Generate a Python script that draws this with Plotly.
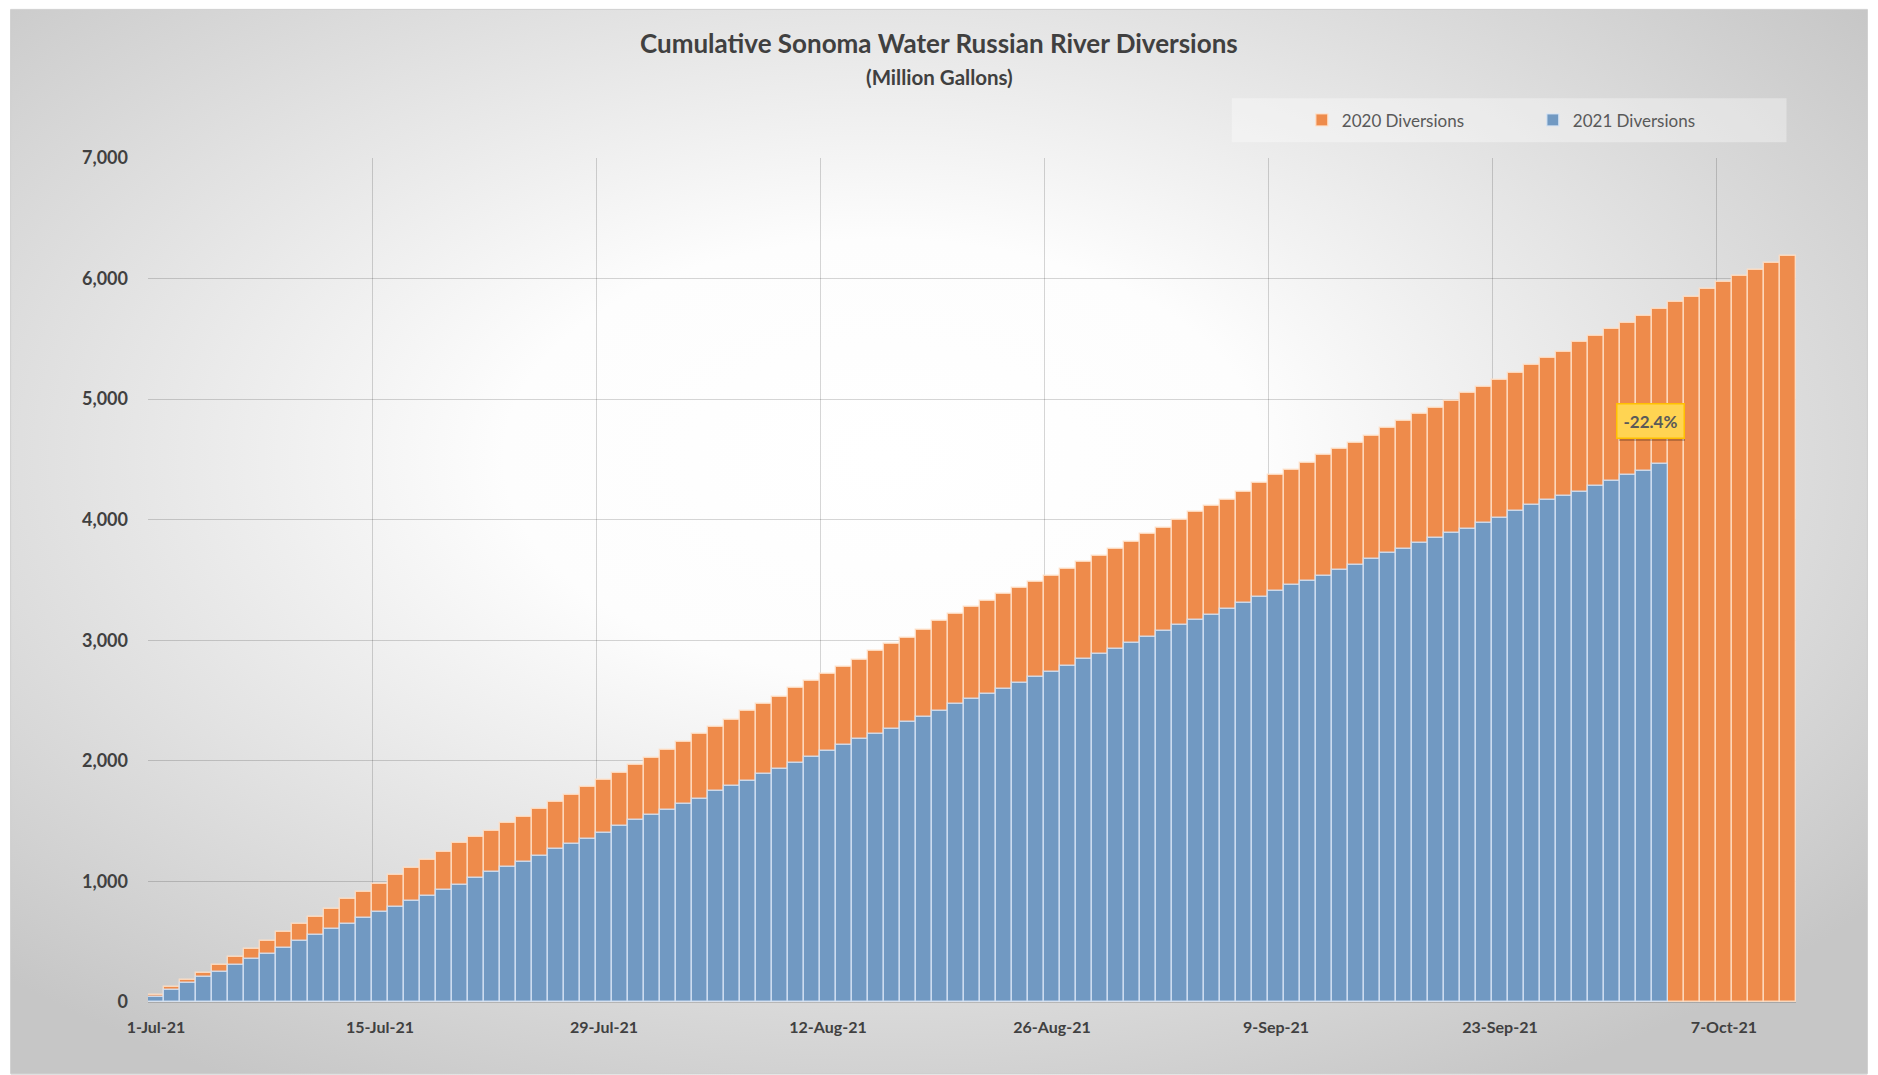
import base64
import pandas as pd
import plotly.graph_objects as go

# ---------------- data ----------------
dates = [d.strftime("%-d-%b-%y") for d in pd.date_range("2021-07-01", periods=103, freq="D")]

diversions_2020 = [
    60, 121, 182, 243, 309, 370, 439, 508, 577, 647,
    705, 774, 854, 912, 981, 1050, 1110, 1179, 1248, 1317,
    1370, 1419, 1483, 1533, 1602, 1662, 1715, 1781, 1842, 1902,
    1962, 2024, 2093, 2154, 2220, 2281, 2341, 2411, 2471, 2532,
    2601, 2662, 2720, 2781, 2840, 2913, 2969, 3018, 3082, 3157,
    3217, 3278, 3327, 3380, 3433, 3485, 3535, 3588, 3647, 3699,
    3759, 3817, 3878, 3930, 4000, 4061, 4111, 4162, 4231, 4308,
    4369, 4413, 4471, 4533, 4585, 4637, 4698, 4758, 4819, 4877,
    4930, 4982, 5051, 5101, 5162, 5214, 5283, 5341, 5393, 5471,
    5522, 5582, 5635, 5693, 5745, 5805, 5850, 5916, 5968, 6021,
    6074, 6132, 6187,
]

diversions_2021 = [
    44, 96, 157, 207, 251, 304, 356, 398, 448, 503,
    552, 605, 649, 699, 743, 792, 837, 881, 930, 974,
    1027, 1077, 1121, 1165, 1215, 1268, 1312, 1353, 1405, 1456,
    1509, 1552, 1593, 1640, 1682, 1748, 1792, 1836, 1889, 1933,
    1983, 2035, 2080, 2128, 2178, 2222, 2267, 2322, 2366, 2411,
    2469, 2513, 2557, 2598, 2643, 2693, 2737, 2789, 2842, 2885,
    2927, 2977, 3029, 3074, 3124, 3168, 3212, 3256, 3306, 3356,
    3408, 3455, 3488, 3537, 3580, 3623, 3676, 3728, 3761, 3803,
    3847, 3891, 3927, 3971, 4018, 4071, 4118, 4160, 4200, 4233,
    4278, 4322, 4367, 4408, 4458,
]

tick_labels = ["1-Jul-21", "15-Jul-21", "29-Jul-21", "12-Aug-21",
               "26-Aug-21", "9-Sep-21", "23-Sep-21", "7-Oct-21"]

# ---------------- layout geometry ----------------
OFF = 8                      # page body margin of the html page
W, H = 1870, 1067
L = 147.5 - OFF
R = W - (1796.5 - OFF)
T = 157.7 - OFF
B = H - (1002.3 - OFF)
PW = W - L - R
PH = H - T - B


def px_x(p):               # page pixel -> paper x
    return (p - OFF - L) / PW


def px_y(p):               # page pixel -> paper y
    return (H - B - (p - OFF)) / PH


FONT = "Lato, Carlito, Calibri, sans-serif"
TXT = "#404040"
GRID = "rgba(0,0,0,0.16)"

# radial gradient background (Excel-like)
svg = """<svg xmlns='http://www.w3.org/2000/svg' width='100' height='100' viewBox='0 0 100 100' preserveAspectRatio='none'>
<defs><radialGradient id='g' cx='0.47' cy='0.42' r='0.68' gradientUnits='objectBoundingBox'>
<stop offset='0' stop-color='#ffffff'/>
<stop offset='0.30' stop-color='#fdfdfd'/>
<stop offset='0.62' stop-color='#e4e4e4'/>
<stop offset='0.85' stop-color='#d2d2d2'/>
<stop offset='1' stop-color='#c6c6c6'/>
</radialGradient></defs>
<rect x='0' y='0' width='100' height='100' fill='url(#g)'/>
</svg>"""
bg_src = "data:image/svg+xml;base64," + base64.b64encode(svg.encode()).decode()

fig = go.Figure()

fig.add_trace(go.Bar(
    x=dates, y=diversions_2020, name="2020 Diversions",
    marker=dict(color="#EE8B4B", line=dict(color="rgba(255,225,200,0.85)", width=1.4)),
))
fig.add_trace(go.Bar(
    x=dates[:len(diversions_2021)], y=diversions_2021, name="2021 Diversions",
    marker=dict(color="#7199C2", line=dict(color="rgba(215,228,245,0.85)", width=1.4)),
))
# empty trace that only carries the boundary gridlines axis
fig.add_trace(go.Scatter(x=[], y=[], xaxis="x2", yaxis="y", showlegend=False, hoverinfo="skip"))

grid_pos = [dates.index(t) - 0.5 for t in tick_labels]

last = len(diversions_2021) - 1
pct = (diversions_2021[last] / diversions_2020[last] - 1) * 100
label = f"{pct:.1f}%"

fig.update_layout(
    width=W, height=H,
    margin=dict(l=L, r=R, t=T, b=B, pad=0),
    barmode="overlay", bargap=0.0,
    paper_bgcolor="white", plot_bgcolor="rgba(0,0,0,0)",
    font=dict(family=FONT, color=TXT),
    showlegend=True,
    legend=dict(
        orientation="h", x=px_x(1302), xanchor="left", y=px_y(120), yanchor="middle",
        bgcolor="rgba(0,0,0,0)", borderwidth=0,
        font=dict(family=FONT, size=17, color="#595959"),
        entrywidth=186, traceorder="normal",
    ),
    xaxis=dict(
        type="category", range=[-0.5, len(dates) - 0.5],
        tickmode="array", tickvals=tick_labels, ticktext=tick_labels,
        tickangle=0, ticks="", showgrid=False, automargin=False,
        showline=False, ticklabelstandoff=14,
        tickfont=dict(family=FONT, size=16, color=TXT, weight="bold"),
    ),
    xaxis2=dict(
        overlaying="x", range=[-0.5, len(dates) - 0.5], tickmode="array",
        tickvals=grid_pos, showticklabels=False, ticks="", showgrid=True,
        gridcolor=GRID, gridwidth=1, zeroline=False, showline=False, automargin=False,
    ),
    yaxis=dict(
        range=[0, 7000], dtick=1000, tickformat=",d",
        showgrid=True, gridcolor=GRID, gridwidth=1,
        zeroline=True, zerolinecolor=GRID, automargin=False,
        ticks="", ticklabelstandoff=19,
        tickfont=dict(family=FONT, size=18, color=TXT, weight="bold"),
    ),
    images=[dict(
        source=bg_src, xref="paper", yref="paper",
        x=px_x(10), y=px_y(9), sizex=(1868 - 10) / PW, sizey=(1075 - 9) / PH,
        xanchor="left", yanchor="top", sizing="stretch", layer="below",
    )],
    shapes=[
        dict(type="rect", xref="paper", yref="paper",
             x0=px_x(10), x1=px_x(1868), y0=px_y(1074), y1=px_y(9),
             line=dict(color="#cfcfcf", width=1), fillcolor="rgba(0,0,0,0)", layer="below"),
        dict(type="rect", xref="paper", yref="paper",
             x0=px_x(1232), x1=px_x(1787), y0=px_y(142), y1=px_y(98),
             line=dict(width=0), fillcolor="rgba(255,255,255,0.35)", layer="below"),
    ],
    annotations=[
        dict(text="<b>Cumulative Sonoma Water Russian River Diversions</b>",
             xref="paper", yref="paper", x=px_x(939), y=px_y(43),
             xanchor="center", yanchor="middle", showarrow=False,
             font=dict(family=FONT, size=26, color=TXT)),
        dict(text="<b>(Million Gallons)</b>",
             xref="paper", yref="paper", x=px_x(939), y=px_y(77),
             xanchor="center", yanchor="middle", showarrow=False,
             font=dict(family=FONT, size=20.5, color=TXT)),
        # shadow of the data label
        dict(text=f"<b>{label}</b>", x=dates[last], y=diversions_2021[last],
             xref="x", yref="y", showarrow=False, xshift=-8, yshift=40,
             font=dict(family=FONT, size=17, color="rgba(0,0,0,0)"),
             bgcolor="rgba(0,0,0,0.22)", borderpad=6, borderwidth=0),
        dict(text=f"<b>{label}</b>", x=dates[last], y=diversions_2021[last],
             xref="x", yref="y", showarrow=False, xshift=-10, yshift=43,
             font=dict(family=FONT, size=17, color="#595959"),
             bgcolor="#FFD452", bordercolor="#FFC000", borderwidth=1.5, borderpad=6),
    ],
)

fig.write_html("out.html")
